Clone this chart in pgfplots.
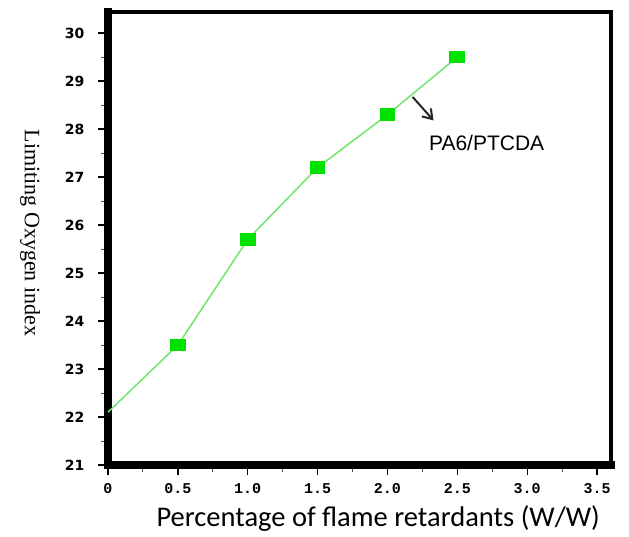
\documentclass[border=0pt]{standalone}
\usepackage{fontspec}
\setmainfont{Liberation Sans}
\newfontfamily\tickyfont{DejaVu Sans}
\newfontfamily\tickxfont{Liberation Mono}
\newfontfamily\calib{Carlito}
\newfontfamily\tnr{Liberation Serif}
\usepackage{pgfplots}
\pgfplotsset{compat=1.18}
\usetikzlibrary{arrows.meta}
\definecolor{ptgreen}{RGB}{0,225,0}
\definecolor{lngreen}{RGB}{110,230,110}
\begin{document}
\begin{tikzpicture}
\path[use as bounding box] (-108pt,-71pt) rectangle (521pt,465pt);
\begin{axis}[
  scale only axis,
  width=503pt, height=453pt,
  at={(0pt,0pt)}, anchor=south west,
  xmin=0, xmax=3.6, ymin=21, ymax=30.44,
  axis line style={line width=4.5pt},
  xtick={0,0.5,1,1.5,2,2.5,3,3.5},
  xticklabels={0,0.5,1.0,1.5,2.0,2.5,3.0,3.5},
  ytick={21,22,...,30},
  minor x tick num=1, minor y tick num=1,
  tick align=outside,
  xtick pos=bottom, ytick pos=left,
  major tick length=10pt, minor tick length=7pt,
  tick style={line width=1.3pt, black},
  minor tick style={line width=1pt, black!70},
  /pgf/number format/assume math mode=true,
  yticklabel style={font=\tickyfont\bfseries\fontsize{14}{16}\selectfont, xshift=-10pt},
  xticklabel style={font=\tickxfont\bfseries\fontsize{15}{17}\selectfont, yshift=-5pt},
  clip=false,
]
\draw[line width=7.5pt, line cap=rect] (rel axis cs:0,1) -- (rel axis cs:0,0) -- (rel axis cs:1,0);
\addplot[color=lngreen, line width=1.5pt, mark=square*, mark size=5.5pt,
  mark indices={2,3,4,5,6},
  mark options={fill=ptgreen, draw=ptgreen, xscale=1.3}]
  coordinates {(0,22.1) (0.5,23.5) (1,25.7) (1.5,27.2) (2,28.3) (2.5,29.5)};
\draw[-{Straight Barb[length=9pt,width=12pt]}, line width=2pt, black!85]
  (axis cs:2.18,28.67) -- (axis cs:2.33,28.18);
\node[font=\fontsize{21}{23}\selectfont] at (axis cs:2.71,27.72) {PA6/PTCDA};
\node[font=\calib\fontsize{28.5}{31}\selectfont] at (rel axis cs:0.537,-0.118) {Percentage of flame retardants (W/W)};
\node[font=\tnr\fontsize{22}{24}\selectfont, rotate=-90] at (rel axis cs:-0.155,0.512) {Limiting Oxygen index};
\end{axis}
\end{tikzpicture}
\end{document}
